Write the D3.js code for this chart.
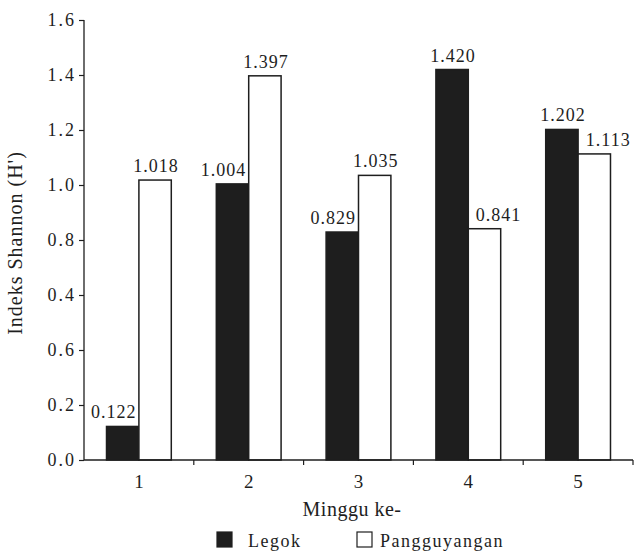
<!DOCTYPE html>
<html><head><meta charset="utf-8">
<script src="https://cdn.jsdelivr.net/npm/d3@7"></script>
<style>body{margin:0;background:#fff}</style>
</head><body>
<svg id="c" width="643" height="553"></svg>
<script>
const weeks = ["1","2","3","4","5"];
const series = ["Legok","Pangguyangan"];
const legok = [0.122, 1.004, 0.829, 1.420, 1.202];
const pangguyangan = [1.018, 1.397, 1.035, 0.841, 1.113];
const tickValues = [0.0, 0.2, 0.4, 0.6, 0.8, 1.0, 1.2, 1.4, 1.6];
const tickLabels = ["0.0", "0.2", "0.6", "0.4", "0.8", "1.0", "1.2", "1.4", "1.6"];

const ink = "#1e1e1e";
const font = "Liberation Serif, Times New Roman, serif";
const svg = d3.select("#c");
const mLeft = 84, mRight = 633, mTop = 20, mBottom = 460;

const x0 = d3.scaleBand().domain(weeks).range([mLeft, mRight]).paddingInner(0.41).paddingOuter(0.205);
const x1 = d3.scaleBand().domain(series).range([0, x0.bandwidth()]);
const y = d3.scaleLinear().domain([0, 1.6]).range([mBottom, mTop]);
const color = d3.scaleOrdinal().domain(series).range([ink, "#fff"]);

const data = weeks.map((w, i) => ({week: w, values: [
  {key: "Legok", v: legok[i], other: pangguyangan[i]},
  {key: "Pangguyangan", v: pangguyangan[i], other: legok[i]}]}));

// y axis
const yAxis = d3.axisLeft(y).tickValues(tickValues).tickSize(5).tickPadding(3)
  .tickFormat((d, i) => tickLabels[i]);
const gy = svg.append("g").attr("transform", `translate(${mLeft},0)`).call(yAxis);
gy.select(".domain").attr("stroke", ink).attr("stroke-width", 1.3).attr("d", `M0,${mTop}V${mBottom}`);
gy.selectAll(".tick line").attr("stroke", ink).attr("stroke-width", 1.2);
gy.selectAll(".tick text").attr("fill", ink).style("font-family", font)
  .style("font-size", "18px").style("letter-spacing", "2px");

// bars
const g = svg.append("g").selectAll("g").data(data).join("g")
  .attr("transform", d => `translate(${x0(d.week)},0)`);
g.selectAll("rect").data(d => d.values).join("rect")
  .attr("x", d => x1(d.key)).attr("y", d => y(d.v))
  .attr("width", x1.bandwidth()).attr("height", d => y(0) - y(d.v))
  .attr("fill", d => color(d.key)).attr("stroke", ink).attr("stroke-width", 1.5);
g.selectAll("text").data(d => d.values).join("text")
  .attr("x", d => {
    const c = x1(d.key) + x1.bandwidth() / 2;
    if (d.other > d.v) return d.key === "Legok" ? c - 9 : c + 14;
    return c + 1;
  })
  .attr("y", d => y(d.v) - 8)
  .attr("text-anchor", "middle").attr("fill", ink)
  .style("font-family", font).style("font-size", "18px").style("letter-spacing", "1px")
  .text(d => d.v.toFixed(3));

// x axis
const step = x0.step();
const gx = svg.append("g");
gx.append("line").attr("x1", mLeft).attr("x2", mRight).attr("y1", mBottom).attr("y2", mBottom)
  .attr("stroke", ink).attr("stroke-width", 1.5);
gx.selectAll("line.t").data(weeks).join("line").attr("class", "t")
  .attr("x1", (d, i) => mLeft + (i + 1) * step).attr("x2", (d, i) => mLeft + (i + 1) * step)
  .attr("y1", mBottom).attr("y2", mBottom + 5).attr("stroke", ink).attr("stroke-width", 1.2);
gx.selectAll("text").data(weeks).join("text")
  .attr("x", d => x0(d) + x0.bandwidth() / 2).attr("y", 488)
  .attr("text-anchor", "middle").attr("fill", ink)
  .style("font-family", font).style("font-size", "19px").text(d => d);

svg.append("text").attr("x", 352).attr("y", 516).attr("text-anchor", "middle")
  .attr("fill", ink).style("font-family", font).style("font-size", "20px")
  .style("letter-spacing", "0.5px").text("Minggu ke-");

svg.append("text").attr("transform", "translate(22,243) rotate(-90)")
  .attr("text-anchor", "middle").attr("fill", ink)
  .style("font-family", font).style("font-size", "20px").style("letter-spacing", "1px")
  .text("Indeks Shannon (H')");

// legend
const legX = [217, 357], legText = [248, 380];
const lg = svg.append("g").selectAll("g").data(series).join("g");
lg.append("rect").attr("x", (d, i) => legX[i]).attr("y", 532).attr("width", 15).attr("height", 15)
  .attr("fill", d => color(d)).attr("stroke", ink).attr("stroke-width", 1.2);
lg.append("text").attr("x", (d, i) => legText[i]).attr("y", 547).attr("fill", ink)
  .style("font-family", font).style("font-size", "18px").style("letter-spacing", "1.5px").text(d => d);
</script>
</body></html>
